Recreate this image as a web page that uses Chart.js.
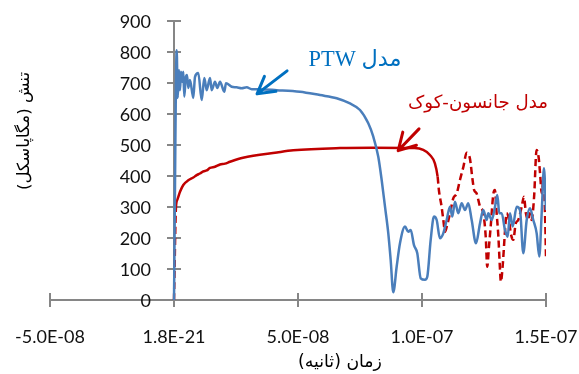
<!DOCTYPE html>
<html>
<head>
<meta charset="utf-8">
<script src="https://cdn.jsdelivr.net/npm/chart.js@4.4.0/dist/chart.umd.min.js"></script>
<style>
  html, body { margin: 0; padding: 0; background: #fff; }
</style>
</head>
<body>
<canvas id="stressChart" width="579" height="374"></canvas>
<script>
// PTW model, time in ns and stress in MPa
const ptwTime = [0, 1.09, 1.49, 2.02, 2.42, 2.82, 3.35, 3.75, 4.15, 4.72, 5.24, 5.77, 6.45, 7.78, 8.47, 9.80,
  11.17, 12.22, 13.18, 14.52, 15.20, 16.53, 17.46, 18.55, 20.28, 20.97, 23.26, 25.28, 27.30, 29.31, 31.33, 33.34,
  41.41, 50.80, 58.87, 65.60, 70.96, 75.00, 78.34, 80.36, 82.37, 83.74, 85.08, 86.41, 87.37, 88.42, 89.79, 91.12,
  93.14, 94.47, 95.44, 96.77, 98.10, 99.47, 101.20, 102.13, 103.50, 104.83, 105.92, 107.25, 108.58, 109.95, 111.28,
  112.21, 113.30, 114.63, 116.00, 117.33, 118.66, 120.03, 121.77, 123.38, 124.71, 126.08, 126.73, 128.10, 129.43,
  130.36, 131.17, 132.13, 133.46, 134.55, 135.48, 136.57, 138.18, 139.51, 140.84, 142.21, 143.54, 144.87, 146.24,
  147.29, 148.26, 149.18, 149.99];
const ptwStress = [0, 806, 652, 742, 677, 736, 704, 736, 656, 716, 726, 684, 710, 652, 720, 732,
  645, 716, 677, 716, 677, 704, 684, 704, 672, 699, 688, 686, 683, 686, 680, 680,
  677, 672, 661, 651, 634, 613, 570, 527, 462, 387, 301, 215, 129, 25, 108, 183,
  237, 220, 226, 177, 151, 70, 65, 75, 194, 269, 258, 199, 215, 258, 301,
  269, 317, 280, 312, 290, 312, 258, 183, 247, 290, 258, 280, 258, 301,
  339, 280, 280, 226, 204, 280, 237, 301, 290, 151, 258, 296, 258, 215,
  140, 280, 425, 290];

// Johnson-Cook model
const jcTime = [0, 0.8, 1.33, 2.42, 3.75, 5.77, 7.78, 9.15, 10.48, 11.81, 13.18, 14.52, 16.53, 18.55, 20.56, 22.58,
  27.82, 41.53, 48.10, 66.93, 80.0, 97.0, 100.5, 103.2, 105.2, 106.3, 106.8, 107.9, 108.6, 109.3, 110.0, 111.3,
  112.6, 114.0, 115.3, 116.7, 118.0, 119.3, 120.4, 121.0, 122.0, 123.4, 124.7, 125.7, 126.3, 127.0, 127.7, 128.8,
  129.4, 130.1, 130.8, 131.4, 131.8, 132.5, 133.5, 134.1, 135.1, 135.8, 136.8, 137.8, 138.8, 140.2, 141.1, 141.9,
  142.9, 143.5, 144.2, 145.2, 146.2, 147.0, 147.6, 148.3, 148.9, 149.6, 150.0];
const jcStress = [0, 300, 323, 349, 371, 386, 395, 403, 408, 415, 418, 426, 430, 437, 440, 446,
  459, 476, 483, 490, 491, 490, 484, 468, 441, 398, 355, 301, 258, 220, 237, 280,
  328, 344, 387, 430, 475, 457, 387, 355, 344, 301, 280, 204, 107, 172, 237, 344,
  355, 280, 204, 107, 59, 107, 226, 280, 258, 215, 194, 247, 258, 301, 333, 280,
  258, 280, 258, 333, 484, 462, 409, 344, 387, 280, 140];
// the JC curve is dashed before / after these times (ns)
const jcDashEnd = 1.0;
const jcDashStart = 106.0;

const xTickLabels = ['-5.0E-08', '1.8E-21', '5.0E-08', '1.0E-07', '1.5E-07'];
const xMin = -5e-8, xMax = 1.5e-7, xStep = 5e-8;
const yMin = 0, yMax = 900, yStep = 100;

const seriesNames = ['مدل PTW', 'مدل جانسون-کوک'];
const xTitle = 'زمان (ثانیه)';
const yTitle = 'تنش (مگاپاسکل)';

const NS = 1e-9;
const ptwColor = '#4A7EBB';
const jcColor = '#C00000';
const axisColor = '#868686';
const tickFont = '18px Lato';

// callout arrows, [ns, MPa]
const ptwArrow = { from: [45.6, 739], to: [33.5, 665] };
const jcArrow = { from: [98.8, 552], to: [90.4, 482] };

function fitFont(ctx, text, family, width) {
  ctx.font = `20px ${family}`;
  const size = 20 * width / ctx.measureText(text).width;
  return `${size.toFixed(1)}px ${family}`;
}

function drawArrow(ctx, x1, y1, x2, y2, color) {
  const ang = Math.atan2(y1 - y2, x1 - x2);
  const head = 19, spread = 0.52;
  ctx.save();
  ctx.strokeStyle = color;
  ctx.lineWidth = 3;
  ctx.lineCap = 'round';
  ctx.lineJoin = 'round';
  ctx.beginPath();
  ctx.moveTo(x1, y1);
  ctx.lineTo(x2, y2);
  ctx.moveTo(x2 + head * Math.cos(ang - spread), y2 + head * Math.sin(ang - spread));
  ctx.lineTo(x2, y2);
  ctx.lineTo(x2 + head * Math.cos(ang + spread), y2 + head * Math.sin(ang + spread));
  ctx.stroke();
  ctx.restore();
}

function drawText(ctx, text, cx, cy, font, color, rotate) {
  ctx.save();
  ctx.translate(cx, cy);
  if (rotate) ctx.rotate(rotate);
  ctx.font = font;
  ctx.fillStyle = color;
  ctx.direction = 'rtl';
  ctx.textAlign = 'center';
  ctx.textBaseline = 'middle';
  ctx.fillText(text, 0, 0);
  ctx.restore();
}

const overlayPlugin = {
  id: 'overlay',
  beforeDatasetsDraw(chart) {
    const { ctx, scales: { x, y } } = chart;
    const x0 = x.getPixelForValue(0);
    const y0 = y.getPixelForValue(0);
    ctx.save();
    ctx.strokeStyle = axisColor;
    ctx.lineWidth = 2;
    ctx.beginPath();
    // tick marks cross the axis lines
    x.ticks.forEach(t => {
      const px = Math.round(x.getPixelForValue(t.value));
      ctx.moveTo(px, y0 - 7);
      ctx.lineTo(px, y0 + 7);
    });
    y.ticks.forEach(t => {
      const py = Math.round(y.getPixelForValue(t.value));
      ctx.moveTo(x0 - 7, py);
      ctx.lineTo(x0 + 7, py);
    });
    ctx.stroke();

    // y tick labels sit left of the axis drawn at x = 0
    ctx.font = tickFont;
    ctx.fillStyle = '#111';
    ctx.textAlign = 'right';
    ctx.textBaseline = 'middle';
    y.ticks.forEach(t => {
      ctx.fillText(String(t.value), x0 - 23, y.getPixelForValue(t.value) + 1);
    });
    ctx.restore();
  },
  afterDraw(chart) {
    const { ctx, scales: { x, y } } = chart;
    const px = v => x.getPixelForValue(v * NS);
    const py = v => y.getPixelForValue(v);

    drawArrow(ctx, px(ptwArrow.from[0]), py(ptwArrow.from[1]), px(ptwArrow.to[0]), py(ptwArrow.to[1]), '#0070C0');
    drawArrow(ctx, px(jcArrow.from[0]), py(jcArrow.from[1]), px(jcArrow.to[0]), py(jcArrow.to[1]), jcColor);

    drawText(ctx, seriesNames[0], 355, 60, fitFont(ctx, seriesNames[0], '"Liberation Serif", "DejaVu Sans"', 93), '#0070C0');
    drawText(ctx, seriesNames[1], 478, 103, fitFont(ctx, seriesNames[1], '"DejaVu Sans"', 140), jcColor);

    drawText(ctx, xTitle, 340, 363, fitFont(ctx, xTitle, '"DejaVu Sans"', 84), '#000');
    drawText(ctx, yTitle, 25, 131, fitFont(ctx, yTitle, '"DejaVu Sans"', 118), '#000', -Math.PI / 2);
  }
};

new Chart(document.getElementById('stressChart'), {
  type: 'line',
  data: {
    datasets: [
      {
        label: seriesNames[0],
        data: ptwTime.map((t, i) => ({ x: t * NS, y: ptwStress[i] })),
        borderColor: ptwColor,
        borderWidth: 2.5,
        pointRadius: 0,
        cubicInterpolationMode: 'monotone'
      },
      {
        label: seriesNames[1],
        data: jcTime.map((t, i) => ({ x: t * NS, y: jcStress[i] })),
        borderColor: jcColor,
        borderWidth: 2.5,
        pointRadius: 0,
        cubicInterpolationMode: 'monotone',
        segment: {
          borderDash: c => (c.p1.parsed.x <= jcDashEnd * NS || c.p0.parsed.x >= jcDashStart * NS) ? [7, 4] : undefined
        }
      }
    ]
  },
  options: {
    responsive: false,
    animation: false,
    layout: { padding: { left: 50, right: 33, top: 21, bottom: 26 } },
    plugins: {
      legend: { display: false },
      tooltip: { enabled: false }
    },
    scales: {
      x: {
        type: 'linear',
        min: xMin,
        max: xMax,
        grid: { drawOnChartArea: false, drawTicks: false },
        border: { color: axisColor, width: 2 },
        ticks: {
          stepSize: xStep,
          padding: 26,
          color: '#111',
          font: { family: 'Lato', size: 18 },
          maxRotation: 0,
          callback: (v, i) => xTickLabels[i]
        },
        afterFit: s => {
          s.height = 48;
          s.paddingLeft = 0;
          s.paddingRight = 0;
        }
      },
      y: {
        min: yMin,
        max: yMax,
        position: { x: 0 },
        grid: { drawOnChartArea: false, drawTicks: false },
        border: { color: axisColor, width: 2 },
        ticks: { stepSize: yStep, display: false },
        afterFit: s => {
          s.width = 0;
          s.paddingTop = 0;
          s.paddingBottom = 0;
        }
      }
    }
  },
  plugins: [overlayPlugin]
});
</script>
</body>
</html>
